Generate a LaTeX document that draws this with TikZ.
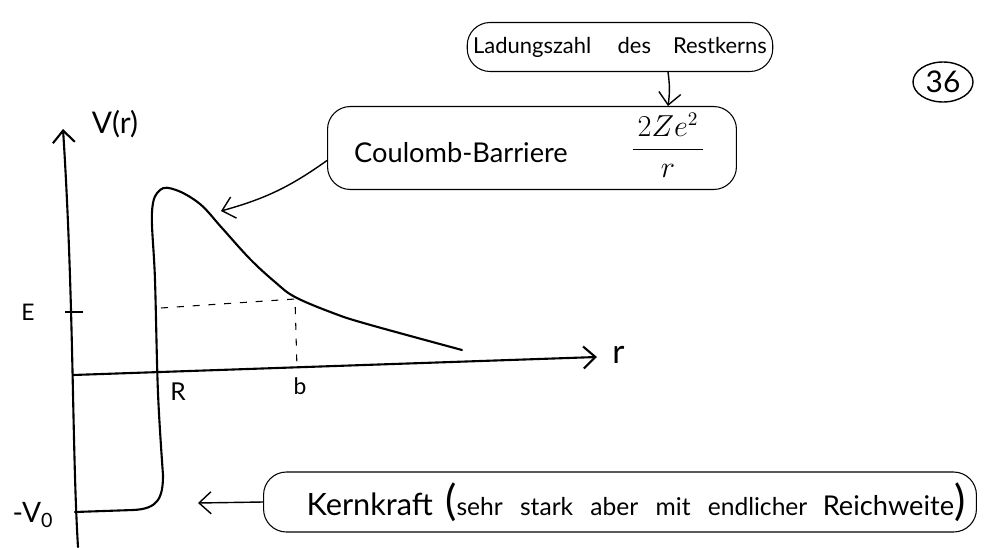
\documentclass[tikz,border=0pt]{standalone}
\usepackage{fontspec}
\setmainfont{Lato}
\usetikzlibrary{arrows.meta,positioning,shapes.geometric}

\begin{document}
\begin{tikzpicture}[x=0.02cm,y=-0.02cm,>={Straight Barb[length=2.4mm,width=4.4mm]},
   line width=0.8pt,
   bubble/.style={draw,line width=0.6pt,rounded corners=13pt,align=center},
   lbl/.style={inner sep=1pt},
   thick curve/.style={line width=1.2pt,line join=round,line cap=round}]
  \useasboundingbox (0,0) rectangle (985,548);
  % axes
  \coordinate (O) at (73,375);
  \coordinate (ytop) at (63,129);
  \coordinate (xend) at (597,357);
  \draw[->,thick curve] (78,547) .. controls (72,450) and (74,300) .. (ytop);
  \draw[->,thick curve] (O) -- (xend);
  \node[lbl,font=\fontsize{17}{17}\selectfont] (vr) at (115,124) {V(r)};
  \node[lbl,font=\fontsize{19}{19}\selectfont,anchor=west] (r) at (610,355) {r};
  \node[lbl,font=\fontsize{13}{13}\selectfont] (E) at (28,312) {E};
  \draw[line width=0.8pt] (65,312) -- (83,312);
  \node[lbl,font=\fontsize{16}{16}\selectfont] (V0) at (33,515) {-V\textsubscript{0}};
  \node[lbl,font=\fontsize{14}{14}\selectfont] (R) at (178,392) {R};
  \node[lbl,font=\fontsize{13}{13}\selectfont] (b) at (300,386) {b};
  % potential
  \draw[thick curve] (75,512) -- (133,510) .. controls (158,509) and (163,498) .. (163,475)
     plot[smooth,tension=0.6] coordinates {(163,475) (158,393) (155,280) (152,212) (160,190) (176,190) (200,204) (222,228) (250,259) (275,282) (295,297) (333,313) (367,324) (462,350)};
  \coordinate (bpt) at (295,299);
  \draw[dashed,line width=0.6pt,dash pattern=on 4pt off 5pt] (161,308) -- (bpt) -- (297,368);
  % boxes
  \node[bubble,minimum width=5.92cm,minimum height=0.98cm,font=\fontsize{12.5}{14}\selectfont] (lad) at (620,47)
       {Ladungszahl\hspace{1.2em}des\hspace{1em}Restkerns};
  \node[bubble,minimum width=8.18cm,minimum height=1.66cm] (coul) at (532,148) {};
  \node[font=\fontsize{15.5}{17}\selectfont] (coultxt) at (461,153) {Coulomb-Barriere};
  \node[font=\fontsize{16}{16}\selectfont] (frac) at (668,145) {$\displaystyle\frac{\,2Ze^2\,}{r}$};
  \node[bubble,minimum width=14.26cm,minimum height=1.2cm] (kern) at (620,502) {};
  \node[font=\fontsize{17.5}{18}\selectfont] (kerntxt) at (636,502)
       {Kernkraft\hspace{0.4em}{\fontsize{24}{24}\selectfont(}{\fontsize{14}{15}\selectfont sehr\hspace{0.7em}stark\hspace{0.7em}aber\hspace{0.7em}mit\hspace{0.7em}endlicher}\hspace{0.5em}{\fontsize{15.5}{16}\selectfont Reichweite}{\fontsize{24}{24}\selectfont)}};
  \node[draw,ellipse,line width=0.8pt,minimum width=1.2cm,minimum height=0.8cm,inner sep=1pt,font=\fontsize{17}{17}\selectfont] (page) at (943,82) {36};
  % pointers
  \coordinate (peak) at (221,211);
  \coordinate (wall) at (198,503);
  \draw[->] ([yshift=-0.25cm]coul.west) to[bend left=10] (peak);
  \draw[->] (kern.west) -- (wall);
  \draw[->] (lad.south -| frac) to[bend left=8] (coul.north -| frac);
\end{tikzpicture}
\end{document}
